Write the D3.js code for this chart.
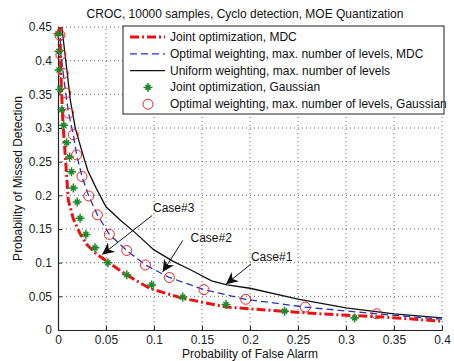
<!DOCTYPE html>
<html>
<head>
<meta charset="utf-8">
<script src="https://cdn.jsdelivr.net/npm/d3@7"></script>
<style>
  body { margin: 0; background: #fff; }
  svg { font-family: "Liberation Sans", Arial, sans-serif; }
</style>
</head>
<body>
<svg id="chart" width="454" height="361"></svg>
<script>
// curves (Pfa, Pmd)
const jointMDC = [[0.002,0.45],[0.003,0.38],[0.005,0.31],[0.008,0.25],[0.0107,0.193],[0.016,0.165],[0.023,0.143],[0.03,0.127],[0.04,0.113],[0.054,0.099],[0.07,0.083],[0.096,0.0615],[0.13,0.047],[0.176,0.034],[0.2035,0.031],[0.273,0.024],[0.342,0.019],[0.4,0.013]];
const optMDC = [[0.002,0.45],[0.003,0.409],[0.0055,0.381],[0.008,0.352],[0.011,0.322],[0.016,0.29],[0.0194,0.26],[0.025,0.228],[0.032,0.199],[0.041,0.171],[0.0535,0.142],[0.0716,0.118],[0.091,0.0966],[0.116,0.078],[0.152,0.06],[0.1955,0.0456],[0.2576,0.034],[0.332,0.024],[0.4,0.016]];
const uniform = [[0.004,0.45],[0.013,0.34],[0.018,0.3],[0.025,0.265],[0.031,0.237],[0.04,0.21],[0.05,0.183],[0.065,0.163],[0.08,0.145],[0.1,0.119],[0.12,0.102],[0.14,0.088],[0.16,0.073],[0.176,0.067],[0.2,0.062],[0.25,0.046],[0.3,0.033],[0.35,0.024],[0.4,0.018]];
const jointGauss = [[0.0,0.44],[0.001,0.414],[0.001,0.386],[0.002,0.357],[0.004,0.327],[0.006,0.304],[0.009,0.278],[0.012,0.257],[0.014,0.235],[0.016,0.211],[0.02,0.19],[0.023,0.166],[0.029,0.142],[0.0385,0.122],[0.052,0.1],[0.0716,0.082],[0.0976,0.067],[0.13,0.049],[0.175,0.038],[0.236,0.028],[0.309,0.018]];
const optGauss = [[0.002,0.438],[0.003,0.409],[0.0055,0.381],[0.008,0.352],[0.011,0.322],[0.016,0.29],[0.0194,0.26],[0.025,0.228],[0.032,0.199],[0.041,0.171],[0.0535,0.142],[0.0716,0.118],[0.091,0.0966],[0.116,0.078],[0.152,0.06],[0.1955,0.0456],[0.2576,0.034],[0.332,0.024]];

const xTicks = [0,0.05,0.1,0.15,0.2,0.25,0.3,0.35,0.4];
const yTicks = [0,0.05,0.1,0.15,0.2,0.25,0.3,0.35,0.4,0.45];

const legendLabels = ["Joint optimization, MDC","Optimal weighting, max. number of levels, MDC","Uniform weighting, max. number of levels","Joint optimization, Gaussian","Optimal weighting, max. number of levels, Gaussian"];

// annotations: label position and arrow tip, in data units
const notes = [
  {text:"Case#3", tx:0.099, ty:0.175, x0:0.098, y0:0.17, x1:0.046, y1:0.112},
  {text:"Case#2", tx:0.138, ty:0.13, x0:0.130, y0:0.133, x1:0.109, y1:0.086},
  {text:"Case#1", tx:0.201, ty:0.102, x0:0.201, y0:0.098, x1:0.175, y1:0.068}
];

const svg = d3.select("#chart");
const margin = {left:58, right:12, top:27, bottom:31};
const W = 454, H = 361;
const x = d3.scaleLinear().domain([0,0.4]).range([margin.left, W - margin.right]);
const y = d3.scaleLinear().domain([0,0.45]).range([H - margin.bottom, margin.top]);

// grid
svg.append("g").selectAll("line").data(xTicks.slice(1)).join("line")
  .attr("x1", d => x(d)).attr("x2", d => x(d)).attr("y1", y(0)).attr("y2", y(0.45))
  .attr("stroke", "#666").attr("stroke-width", 1).attr("stroke-dasharray", "1,3");
svg.append("g").selectAll("line").data(yTicks.slice(1)).join("line")
  .attr("y1", d => y(d)).attr("y2", d => y(d)).attr("x1", x(0)).attr("x2", x(0.4))
  .attr("stroke", "#666").attr("stroke-width", 1).attr("stroke-dasharray", "1,3");

// axes
const xAxis = svg.append("g").attr("transform", `translate(0,${y(0)})`)
  .call(d3.axisBottom(x).tickValues(xTicks).tickFormat(d3.format("")).tickSizeInner(-4).tickSizeOuter(0).tickPadding(5));
const yAxis = svg.append("g").attr("transform", `translate(${x(0)},0)`)
  .call(d3.axisLeft(y).tickValues(yTicks).tickFormat(d3.format("")).tickSizeInner(-4).tickSizeOuter(0).tickPadding(6));
[xAxis, yAxis].forEach(a => {
  a.select(".domain").attr("stroke", "#222").attr("stroke-width", 1.2);
  a.selectAll(".tick line").attr("stroke", "#222");
  a.selectAll("text").attr("font-size", 12).attr("fill", "#222").attr("font-family", "Liberation Sans, Arial, sans-serif");
});

const line = d3.line().x(d => x(d[0])).y(d => y(d[1]));

svg.append("path").datum(uniform).attr("d", line)
  .attr("fill", "none").attr("stroke", "#111").attr("stroke-width", 1.3);
svg.append("path").datum(optMDC).attr("d", line)
  .attr("fill", "none").attr("stroke", "#2233cc").attr("stroke-width", 1.3).attr("stroke-dasharray", "7,4");
svg.append("path").datum(jointMDC).attr("d", line)
  .attr("fill", "none").attr("stroke", "#ee1111").attr("stroke-width", 3).attr("stroke-dasharray", "9,3,2,3");

function star(g, cx, cy) {
  g.append("path")
    .attr("d", `M${cx-4.5},${cy}H${cx+4.5}M${cx},${cy-4.5}V${cy+4.5}M${cx-2.5},${cy-2.5}L${cx+2.5},${cy+2.5}M${cx-2.5},${cy+2.5}L${cx+2.5},${cy-2.5}`)
    .attr("stroke", "#1a8a2a").attr("stroke-width", 1.5);
}
const stars = svg.append("g");
jointGauss.forEach(d => star(stars, x(d[0]), y(d[1])));

svg.append("g").selectAll("circle").data(optGauss).join("circle")
  .attr("cx", d => x(d[0])).attr("cy", d => y(d[1])).attr("r", 5)
  .attr("fill", "none").attr("stroke", "#ee2222").attr("stroke-width", 1);

// annotations
svg.append("defs").append("marker").attr("id", "arr")
  .attr("viewBox", "0 0 10 10").attr("refX", 10).attr("refY", 5)
  .attr("markerWidth", 12).attr("markerHeight", 12).attr("markerUnits", "userSpaceOnUse")
  .attr("orient", "auto")
  .append("path").attr("d", "M0,0L10,5L0,10L3,5Z").attr("fill", "#111");
const ann = svg.append("g");
notes.forEach(n => {
  ann.append("line").attr("x1", x(n.x0)).attr("y1", y(n.y0)).attr("x2", x(n.x1)).attr("y2", y(n.y1))
    .attr("stroke", "#111").attr("stroke-width", 1).attr("marker-end", "url(#arr)");
  ann.append("text").attr("x", x(n.tx)).attr("y", y(n.ty)).text(n.text)
    .attr("font-size", 12).attr("fill", "#111");
});

// title and labels
svg.append("text").attr("x", 245).attr("y", 18).attr("text-anchor", "middle")
  .attr("font-size", 12).attr("fill", "#111").text("CROC, 10000 samples, Cyclo detection, MOE Quantization");
svg.append("text").attr("x", x(0.2)).attr("y", 358).attr("text-anchor", "middle")
  .attr("font-size", 12).attr("fill", "#111").text("Probability of False Alarm");
svg.append("text").attr("transform", `translate(22,${y(0.225)}) rotate(-90)`).attr("text-anchor", "middle")
  .attr("font-size", 12).attr("fill", "#111").text("Probability of Missed Detection");

// legend
const lg = svg.append("g");
lg.append("rect").attr("x", 123).attr("y", 26).attr("width", 321).attr("height", 88)
  .attr("fill", "#fff").attr("stroke", "#222").attr("stroke-width", 1);
const rowY = i => 37 + i * 16.8;
const styles = [
  {stroke:"#ee1111", w:3, dash:"9,3,2,3"},
  {stroke:"#2233cc", w:1.3, dash:"7,4"},
  {stroke:"#111", w:1.3, dash:null}
];
styles.forEach((s, i) => {
  lg.append("line").attr("x1", 130).attr("x2", 165).attr("y1", rowY(i)).attr("y2", rowY(i))
    .attr("stroke", s.stroke).attr("stroke-width", s.w).attr("stroke-dasharray", s.dash);
});
star(lg, 148, rowY(3));
lg.append("circle").attr("cx", 148).attr("cy", rowY(4)).attr("r", 5)
  .attr("fill", "none").attr("stroke", "#ee2222");
lg.selectAll("text.lab").data(legendLabels).join("text").attr("class", "lab")
  .attr("x", 170).attr("y", (d, i) => rowY(i) + 4).attr("font-size", 12).attr("fill", "#111")
  .text(d => d);
</script>
</body>
</html>
